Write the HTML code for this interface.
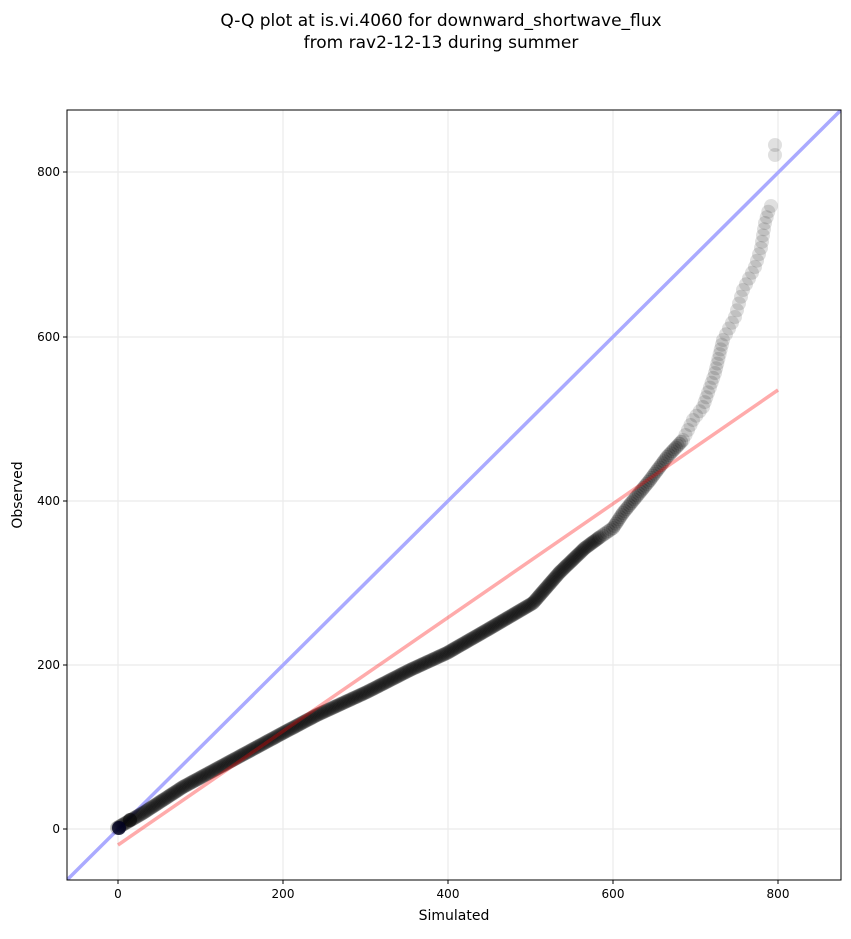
<!DOCTYPE html>
<html><head><meta charset="utf-8"><style>
body{margin:0;background:#fff;font-family:"Liberation Sans","DejaVu Sans",sans-serif}
</style></head><body>
<svg id="s" width="851" height="934" xmlns="http://www.w3.org/2000/svg" font-family="DejaVu Sans, Liberation Sans, sans-serif">
<text x="441" y="26" font-size="17" text-anchor="middle">Q-Q plot at is.vi.4060 for downward_shortwave_flux</text>
<text x="441" y="48" font-size="17" text-anchor="middle">from rav2-12-13 during summer</text>
<defs><clipPath id="c"><rect x="67" y="110" width="774" height="770"/></clipPath></defs>
<g stroke="#ebebeb" stroke-width="1.2">
<line x1="118" y1="110" x2="118" y2="880"/><line x1="283" y1="110" x2="283" y2="880"/><line x1="448" y1="110" x2="448" y2="880"/><line x1="613" y1="110" x2="613" y2="880"/><line x1="778" y1="110" x2="778" y2="880"/>
<line x1="67" y1="829" x2="841" y2="829"/><line x1="67" y1="665" x2="841" y2="665"/><line x1="67" y1="501" x2="841" y2="501"/><line x1="67" y1="337" x2="841" y2="337"/><line x1="67" y1="172" x2="841" y2="172"/>
</g>
<g clip-path="url(#c)">
<line x1="67" y1="880" x2="841" y2="110" stroke="#aaaaff" stroke-width="3.5"/>
<g id="pts"></g>
<line x1="118" y1="845" x2="778" y2="390" stroke="#ff0000" stroke-opacity="0.33" stroke-width="3.5"/>
</g>
<rect x="67" y="110" width="774" height="770" fill="none" stroke="#000" stroke-width="1"/>
<g font-size="12" text-anchor="middle">
<g stroke="#000"><line x1="118" y1="880" x2="118" y2="884"/><line x1="283" y1="880" x2="283" y2="884"/><line x1="448" y1="880" x2="448" y2="884"/><line x1="613" y1="880" x2="613" y2="884"/><line x1="778" y1="880" x2="778" y2="884"/>
<line x1="63" y1="829" x2="67" y2="829"/><line x1="63" y1="665" x2="67" y2="665"/><line x1="63" y1="501" x2="67" y2="501"/><line x1="63" y1="337" x2="67" y2="337"/><line x1="63" y1="172" x2="67" y2="172"/></g>
<text x="118" y="898">0</text><text x="283" y="898">200</text><text x="448" y="898">400</text><text x="613" y="898">600</text><text x="778" y="898">800</text>
<g text-anchor="end"><text x="60" y="833">0</text><text x="60" y="669">200</text><text x="60" y="505">400</text><text x="60" y="341">600</text><text x="60" y="176">800</text></g>
</g>
<text x="454" y="920" font-size="14" text-anchor="middle">Simulated</text>
<text transform="translate(22,495) rotate(-90)" font-size="14" text-anchor="middle">Observed</text>
</svg>
<script>
var P=[[117,828],[143,813],[183,787],[233,760],[283,733],[317,715],[367,692],[410,670],[447,653],[487,630],[533,603],[560,572],[585,548],[600,537],[613,528],[623,513],[650,480],[667,457],[683,440],[693,420],[703,407],[715,373],[723,340],[735,317],[743,290],[755,267],[761,248],[765,223],[770,206]];
var g=document.getElementById('pts'),h='';
for(var i=0;i<P.length-1;i++){var a=P[i],b=P[i+1];var d=Math.hypot(b[0]-a[0],b[1]-a[1]);
var step=a[0]<600?1.5:(a[0]<680?2.5:(a[0]<720?5:7));var n=Math.max(1,Math.round(d/step));
for(var k=0;k<n;k++){var t=k/n;var x=a[0]+(b[0]-a[0])*t,y=a[1]+(b[1]-a[1])*t;var op=a[0]<600?0.2:(a[0]<680?0.2:0.13);
h+='<circle cx="'+x.toFixed(1)+'" cy="'+y.toFixed(1)+'" r="7" fill="#000" fill-opacity="'+op+'"/>';}}
h+='<circle cx="771" cy="206" r="7" fill="#000" fill-opacity="0.12"/><circle cx="775" cy="145" r="7" fill="#000" fill-opacity="0.12"/><circle cx="775" cy="155" r="7" fill="#000" fill-opacity="0.12"/>';
h+='<circle cx="119" cy="828" r="7" fill="#000020" fill-opacity="0.8"/><circle cx="130" cy="820" r="7" fill="#000" fill-opacity="0.5"/>';
g.innerHTML=h;
</script>
</body></html>
